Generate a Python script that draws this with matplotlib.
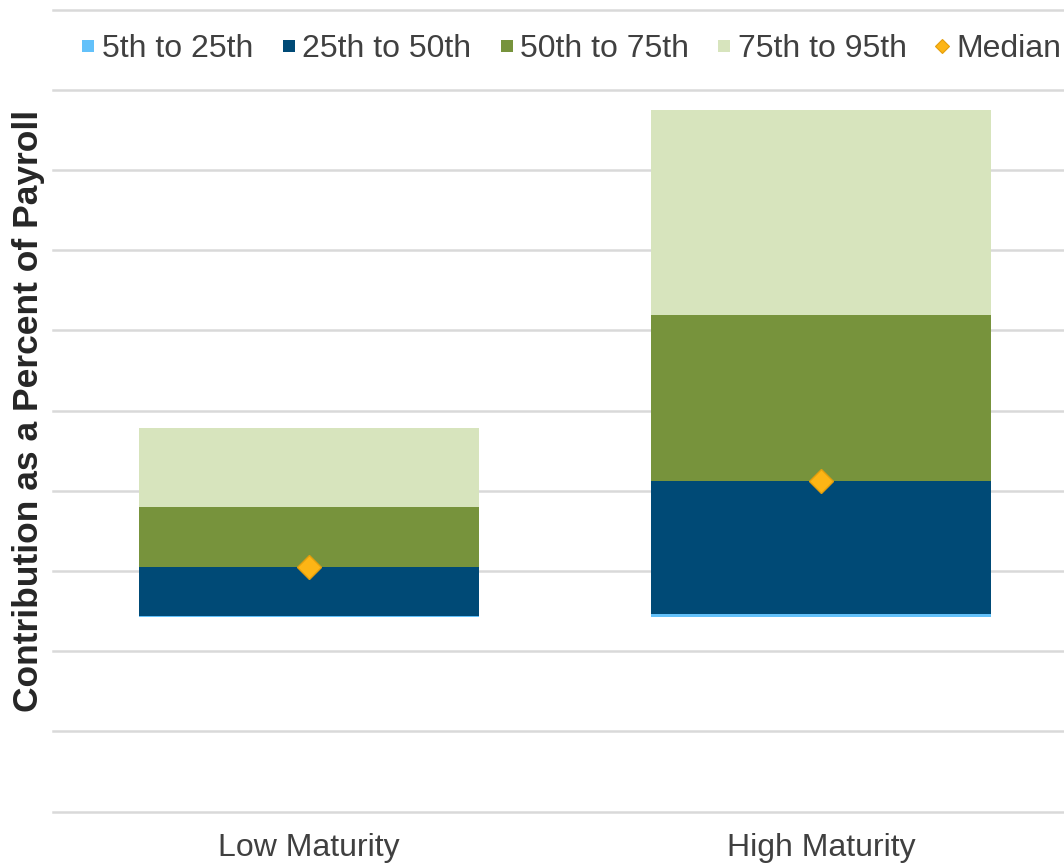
import matplotlib
matplotlib.use("Agg")
import matplotlib.pyplot as plt
from matplotlib.lines import Line2D
import numpy as np

# Contribution percentiles (percent of payroll) by plan maturity
categories = ["Low Maturity", "High Maturity"]
p5 = [12.1, 12.1]
p25 = [12.2, 12.3]
p50 = [15.25, 20.6]
p75 = [19.0, 30.95]
p95 = [23.9, 43.75]

band_labels = ["5th to 25th", "25th to 50th", "50th to 75th", "75th to 95th"]
band_colors = ["#63C1FA", "#004A76", "#77933C", "#D7E4BD"]
median_color = "#FDB515"
median_edge = "#E39E0C"
text_color = "#404040"

plt.rcParams["font.family"] = ["Liberation Sans", "DejaVu Sans"]

fig = plt.figure(figsize=(10.64, 8.65), dpi=100)
ax = fig.add_axes([53 / 1064, (865 - 811.5) / 865, 1024 / 1064, (811.5 - 9.6) / 865])

x = np.arange(len(categories))
width = 0.666

lows = [p5, p25, p50, p75]
highs = [p25, p50, p75, p95]
for lo, hi, color in zip(lows, highs, band_colors):
    heights = np.array(hi) - np.array(lo)
    ax.bar(x, heights, width=width, bottom=lo, color=color, zorder=2, linewidth=0)

ax.plot(x, p50, linestyle="none", marker="D", markersize=12,
        markerfacecolor=median_color, markeredgecolor=median_edge,
        markeredgewidth=1.0, zorder=3)

ax.set_xlim(-0.5, 1.5)
ax.set_ylim(0, 50)
ax.set_yticks(np.arange(0, 51, 5))
ax.yaxis.grid(True, color="#D9D9D9", linewidth=1.8, zorder=0)
for gl in ax.get_ygridlines():
    gl.set_clip_on(False)
ax.set_axisbelow(True)
ax.tick_params(axis="y", left=False, labelleft=False)
ax.tick_params(axis="x", bottom=False, pad=12)
ax.set_xticks(x)
ax.set_xticklabels(categories, fontsize=23, color=text_color)
for s in ax.spines.values():
    s.set_visible(False)

fig.text(29 / 1064, (865 - 411) / 865, "Contribution as a Percent of Payroll",
         rotation=90, ha="center", va="center", fontsize=25.5,
         fontweight="bold", color="#262626")

handles = [Line2D([], [], linestyle="none", marker="s", markersize=9,
                  markerfacecolor=c, markeredgewidth=0) for c in band_colors]
handles.append(Line2D([], [], linestyle="none", marker="D", markersize=7.5,
                      markerfacecolor=median_color, markeredgecolor=median_edge,
                      markeredgewidth=0.8))
labels = band_labels + ["Median"]
leg = fig.legend(handles, labels, loc="center", bbox_to_anchor=(571 / 1064, (865 - 49) / 865),
                 ncol=5, frameon=False, fontsize=23, handlelength=0.45,
                 handletextpad=0.2, columnspacing=0.88, borderaxespad=0)
for t in leg.get_texts():
    t.set_color(text_color)

fig.savefig("out.png", dpi=100, facecolor="white")
